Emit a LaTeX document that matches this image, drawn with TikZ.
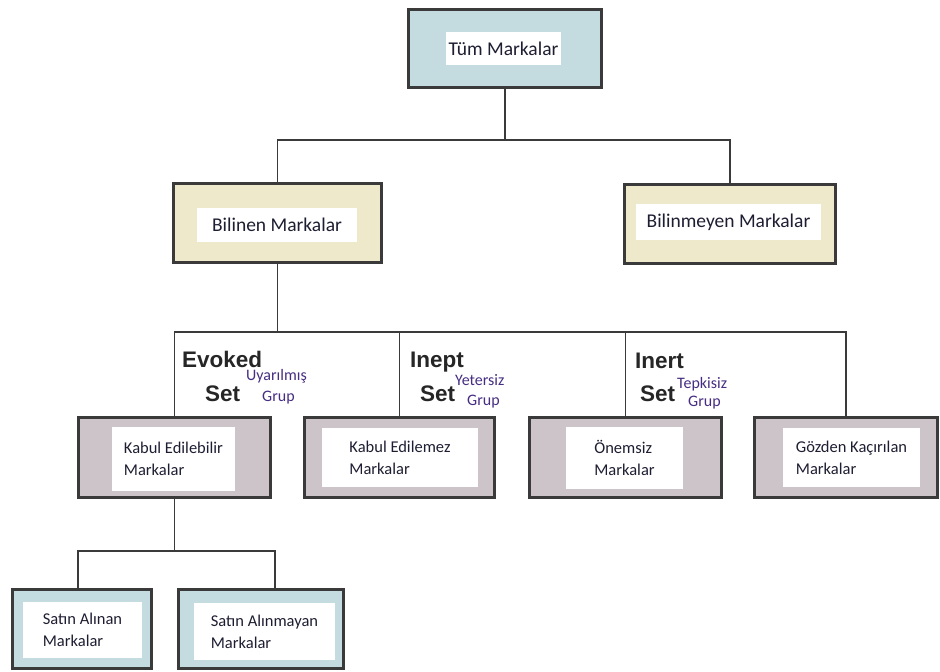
\documentclass[tikz,border=0pt]{standalone}
\usepackage{fontspec}
\setmainfont{Carlito}
\newfontfamily\headfont{Liberation Sans}
\usetikzlibrary{calc}

\definecolor{tealgray}{RGB}{196,219,223}
\definecolor{sandbeige}{RGB}{238,233,202}
\definecolor{mauvegray}{RGB}{204,196,201}
\definecolor{framegray}{RGB}{58,58,58}
\definecolor{inkblue}{RGB}{30,30,50}
\definecolor{subpurple}{RGB}{70,45,130}

\begin{document}
\begin{tikzpicture}[x=1pt,y=-1pt]
    % Styles for the frames, the white cards and the links
    \tikzset{
        frame/.style={draw=framegray, line width=2.8pt, fill=#1, inner sep=0pt},
        card/.style={fill=white, inner sep=0pt, align=left, text=inkblue},
        bigcard/.style={card, font=\fontsize{19.5}{23}\selectfont},
        smallcard/.style={card, font=\fontsize{16.5}{22}\selectfont},
        link/.style={draw=framegray, line width=1.8pt},
        headlab/.style={inner sep=0pt, anchor=base west, text=black!85,
            font=\headfont\bfseries\fontsize{22.5}{26}\selectfont},
        sublab/.style={inner sep=0pt, anchor=west, text=subpurple,
            font=\fontsize{16}{18}\selectfont}
    }

    % Fix the canvas
    \useasboundingbox (0,0) rectangle (940,672);

    % Bus heights
    \def\busA{140}
    \def\busB{332}
    \def\busC{551}

    % Top level
    \node[frame=tealgray, minimum width=193, minimum height=78] (tum) at (505,48.5) {};
    \node[bigcard, minimum width=115, minimum height=33] (tumIn) at (503.5,48.5) {Tüm Markalar};

    % Known / unknown
    \node[frame=sandbeige, minimum width=208, minimum height=79] (bil) at (277.5,223) {};
    \node[bigcard, minimum width=160, minimum height=34] (bilIn) at (277,225) {Bilinen Markalar};
    \node[frame=sandbeige, minimum width=211, minimum height=79] (bilm) at (730,224) {};
    \node[bigcard, minimum width=185, minimum height=36] (bilmIn) at (728.5,222) {Bilinmeyen Markalar};

    % Third level
    \node[frame=mauvegray, minimum width=192, minimum height=80] (keb) at (174.5,457.5) {};
    \node[smallcard, minimum width=123, minimum height=64] (kebIn) at (173.5,459) {Kabul Edilebilir\\Markalar};
    \node[frame=mauvegray, minimum width=190, minimum height=80] (kem) at (399.5,457.5) {};
    \node[smallcard, minimum width=156, minimum height=59] (kemIn) at (400,457.5) {Kabul Edilemez\\Markalar};
    \node[frame=mauvegray, minimum width=192, minimum height=80] (onm) at (625.5,457.5) {};
    \node[smallcard, minimum width=117, minimum height=62] (onmIn) at (624.5,458) {Önemsiz\\Markalar};
    \node[frame=mauvegray, minimum width=183, minimum height=80] (goz) at (846,457.5) {};
    \node[smallcard, minimum width=137, minimum height=59] (gozIn) at (851.5,457.5) {Gözden Kaçırılan\\Markalar};

    % Fourth level
    \node[frame=tealgray, minimum width=139, minimum height=79] (sal) at (82,629) {};
    \node[smallcard, minimum width=119, minimum height=56] (salIn) at (82.5,630) {Satın Alınan\\Markalar};
    \node[frame=tealgray, minimum width=165, minimum height=79] (salm) at (261,629) {};
    \node[smallcard, minimum width=141, minimum height=57] (salmIn) at (264.5,631.5) {Satın Alınmayan\\Markalar};

    % Bus end points
    \coordinate (bA) at (0,\busA);
    \coordinate (bB) at (0,\busB);
    \coordinate (bCl) at (78,\busC);
    \coordinate (bCr) at (275,\busC);

    % Links
    \draw[link] (tum.south) -- (tum.south |- bA);
    \draw[link] (bil.north) |- (bilm.north |- bA) -- (bilm.north);
    \draw[link] (bil.south) -- (bil.south |- bB);
    \draw[link] (keb.north) |- (goz.north |- bB) -- (goz.north);
    \draw[link] (kem.north) -- (kem.north |- bB);
    \draw[link] (onm.north) -- (onm.north |- bB);
    \draw[link] (keb.south) -- (keb.south |- bCl);
    \draw[link] (bCl |- sal.north) -- (bCl) -- (bCr) -- (bCr |- salm.north);

    % Set labels
    \node[headlab] (evk) at (182,367) {Evoked};
    \node[headlab] (evkS) at (205,401) {Set};
    \node[sublab] (evkT) at (246,376) {Uyarılmış};
    \node[sublab] (evkG) at (262,398) {Grup};

    \node[headlab] (inp) at (410,367) {Inept};
    \node[headlab] (inpS) at (420,401) {Set};
    \node[sublab] (inpT) at (455,380) {Yetersiz};
    \node[sublab] (inpG) at (467,402) {Grup};

    \node[headlab] (inr) at (635,368) {Inert};
    \node[headlab] (inrS) at (640,401) {Set};
    \node[sublab] (inrT) at (677,384) {Tepkisiz};
    \node[sublab] (inrG) at (688,403) {Grup};
\end{tikzpicture}
\end{document}
